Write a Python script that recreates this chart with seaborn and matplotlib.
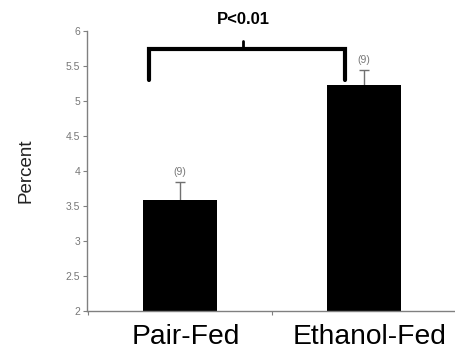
import matplotlib
matplotlib.use("Agg")
import matplotlib.pyplot as plt
import matplotlib.transforms as mtransforms
import seaborn as sns
import pandas as pd

categories = ["Pair-Fed", "Ethanol-Fed"]
values = [3.59, 5.23]
errors = [0.25, 0.21]
n_labels = ["(9)", "(9)"]
y_ticks = [2, 2.5, 3, 3.5, 4, 4.5, 5, 5.5, 6]
y_tick_labels = ["2", "2.5", "3", "3.5", "4", "4.5", "5", "5.5", "6"]
sig_text = "P<0.01"

sns.set_style("white")
plt.rcParams['font.family'] = ['Liberation Sans', 'DejaVu Sans']

fig = plt.figure(figsize=(4.56, 3.49), dpi=100)
ax = fig.add_axes([87/456, 1 - 311/349, 1 - 87/456, (311 - 31)/349])

df = pd.DataFrame({"group": categories, "value": values})
sns.barplot(data=df, x="group", y="value", color="black", width=0.405,
            edgecolor="black", linewidth=0, errorbar=None, ax=ax, zorder=2)

xs = list(range(len(categories)))
ax.errorbar(xs, values, yerr=[[0.05]*len(errors), errors], fmt="none",
            ecolor="#707070", elinewidth=1, capsize=3.5, capthick=1, zorder=1)
for x, v, e, t in zip(xs, values, errors, n_labels):
    ax.text(x, v + e + 0.07, t, ha="center", va="bottom", fontsize=7.5,
            color="#777777")

ax.set_ylim(2, 6)
ax.set_xlim(-0.505, 1.49)
ax.set_yticks(y_ticks)
ax.set_yticklabels(y_tick_labels, fontsize=7.5, color="#777777")
ax.set_xticks(xs)
ax.set_xticklabels(categories, fontsize=20.3, color="black")
ax.tick_params(axis="x", length=0, pad=9)
ax.tick_params(axis="y", left=True, length=3, width=0.8, color="#808080", pad=2)
ax.set_xlabel("")
ax.set_ylabel("Percent", fontsize=13.5, color="#222222", labelpad=22)

offset = mtransforms.ScaledTranslation(6/100, 0, fig.dpi_scale_trans)
for lab in ax.get_xticklabels():
    lab.set_transform(lab.get_transform() + offset)

ax.set_xticks([-0.5, 0.5, 1.5], minor=True)
ax.tick_params(axis="x", which="minor", bottom=True, length=3, width=0.8, color="#808080")

for s in ["top", "right"]:
    ax.spines[s].set_visible(False)
for s in ["left", "bottom"]:
    ax.spines[s].set_color("#808080")
    ax.spines[s].set_linewidth(1)

# significance bracket
bx = [-0.17, -0.17, 0.895, 0.895]
by = [5.30, 5.74, 5.74, 5.30]
ax.plot(bx, by, color="black", linewidth=3, clip_on=False, solid_joinstyle="miter", zorder=4)
ax.plot([0.343, 0.343], [5.74, 5.86], color="black", linewidth=2, clip_on=False, zorder=4)
ax.text(0.343, 6.06, sig_text, ha="center", va="bottom", fontsize=12,
        fontweight="bold", color="black", clip_on=False)

fig.savefig("out.png", dpi=100)
